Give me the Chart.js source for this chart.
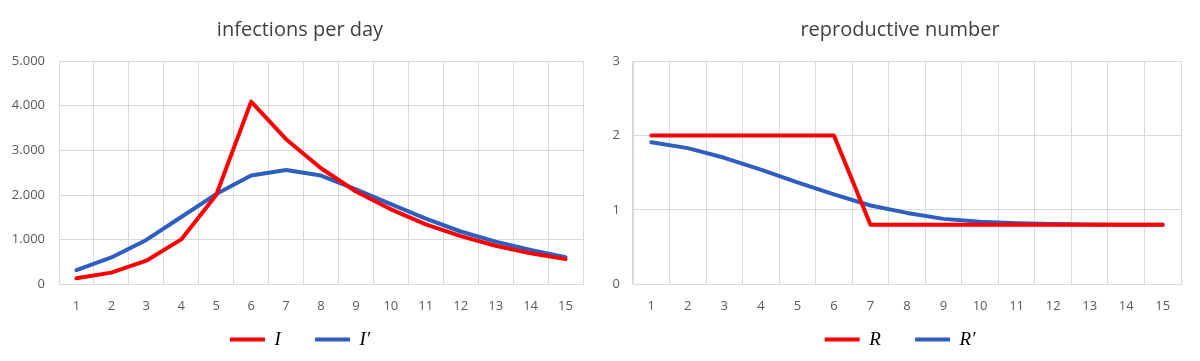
<!DOCTYPE html>
<html>
<head>
<meta charset="utf-8">
<script src="https://cdn.jsdelivr.net/npm/chart.js@4/dist/chart.umd.min.js"></script>
<style>
  html, body { margin: 0; padding: 0; background: #fff; }
  #wrap { position: relative; width: 1200px; height: 361px; }
  .box { position: absolute; top: 0; width: 600px; height: 361px; }
</style>
</head>
<body>
<div id="wrap">
  <div class="box" style="left:0"><canvas id="infChart" width="600" height="361"></canvas></div>
  <div class="box" style="left:600px"><canvas id="repChart" width="600" height="361"></canvas></div>
</div>
<script>
// ===== данные =====
const days = ['1','2','3','4','5','6','7','8','9','10','11','12','13','14','15'];

const infI      = [136, 264, 530, 1007, 2000, 4090, 3250, 2600, 2080, 1680, 1345, 1080, 865, 695, 566];
const infIprime = [317, 603, 995, 1508, 2021, 2436, 2560, 2436, 2127, 1795, 1470, 1184, 958, 769, 610];

const repR      = [2, 2, 2, 2, 2, 2, 0.8, 0.8, 0.8, 0.8, 0.8, 0.8, 0.8, 0.8, 0.8];
const repRprime = [1.91, 1.83, 1.70, 1.54, 1.37, 1.21, 1.06, 0.96, 0.88, 0.84, 0.82, 0.81, 0.805, 0.80, 0.80];

const infTicks = [0, 1000, 2000, 3000, 4000, 5000];
const repTicks = [0, 1, 2, 3];

// ===== стили =====
const RED = '#FF0000';
const BLUE = '#2E5FBE';
const GRID = '#D9D9D9';
const TICK = '#595959';
const TITLE = '#404040';
const UI_FONT = "'Open Sans', 'Noto Sans', sans-serif";
const GAP = '\u2003\u2002\u2009'; // лишний отступ между пунктами легенды

// 1000 -> "1.000"
function fmtDe(v) {
    return String(v).replace(/\B(?=(\d{3})+(?!\d))/g, '.');
}

function makeChart(id, opts) {
    const ctx = document.getElementById(id).getContext('2d');
    return new Chart(ctx, {
        type: 'line',
        data: {
            labels: days,
            datasets: opts.series.map(s => ({
                label: s.label,
                data: s.data,
                borderColor: s.color,
                backgroundColor: s.color,
                borderWidth: 4,
                pointRadius: 0,
                tension: 0,
                borderCapStyle: 'round',
                borderJoinStyle: 'round',
                fill: false
            }))
        },
        options: {
            responsive: false,
            animation: false,
            devicePixelRatio: 1,
            layout: { padding: { left: 0, right: 0, top: 0, bottom: 2 } },
            plugins: {
                title: {
                    display: true,
                    text: opts.title,
                    color: TITLE,
                    font: { family: UI_FONT, size: 20, weight: 'normal' },
                    padding: { top: 18, bottom: 19 }
                },
                legend: {
                    position: 'bottom',
                    labels: {
                        boxWidth: 35,
                        boxHeight: 4,
                        padding: 2,
                        color: '#000',
                        font: { family: "'Liberation Serif', 'DejaVu Serif', serif", style: 'italic', size: 19 },
                        generateLabels: (chart) => chart.data.datasets.map((ds, i, arr) => ({
                            text: i < arr.length - 1 ? ds.label + GAP : ds.label,
                            fillStyle: ds.borderColor,
                            strokeStyle: ds.borderColor,
                            lineWidth: 0,
                            datasetIndex: i
                        }))
                    }
                },
                tooltip: { enabled: false }
            },
            scales: {
                x: {
                    offset: true,
                    grid: { color: GRID, offset: true, drawTicks: false },
                    border: { color: GRID },
                    ticks: { color: TICK, padding: 14, font: { family: UI_FONT, size: 13 } }
                },
                y: {
                    min: opts.ticks[0],
                    max: opts.ticks[opts.ticks.length - 1],
                    afterBuildTicks: (scale) => { scale.ticks = opts.ticks.map(v => ({ value: v })); },
                    afterFit: (scale) => { scale.width = opts.axisWidth; },
                    grid: { color: GRID, drawTicks: false },
                    border: { color: GRID },
                    ticks: {
                        color: TICK,
                        padding: opts.tickPad,
                        font: { family: UI_FONT, size: 13 },
                        callback: (v) => fmtDe(v)
                    }
                },
                // пустая ось справа — только отступ, чтобы легенда была по центру холста
                yPad: {
                    position: 'right',
                    grid: { display: false, drawTicks: false },
                    border: { display: false },
                    ticks: { display: false },
                    afterFit: (scale) => { scale.width = opts.padRight; }
                }
            }
        }
    });
}

makeChart('infChart', {
    title: 'infections per day',
    series: [
        { label: 'I', data: infI, color: RED },
        { label: 'I\u2032', data: infIprime, color: BLUE }
    ],
    ticks: infTicks,
    axisWidth: 59,
    tickPad: 14,
    padRight: 17
});

makeChart('repChart', {
    title: 'reproductive number',
    series: [
        { label: 'R', data: repR, color: RED },
        { label: 'R\u2032', data: repRprime, color: BLUE }
    ],
    ticks: repTicks,
    axisWidth: 33,
    tickPad: 13,
    padRight: 19
});
</script>
</body>
</html>
